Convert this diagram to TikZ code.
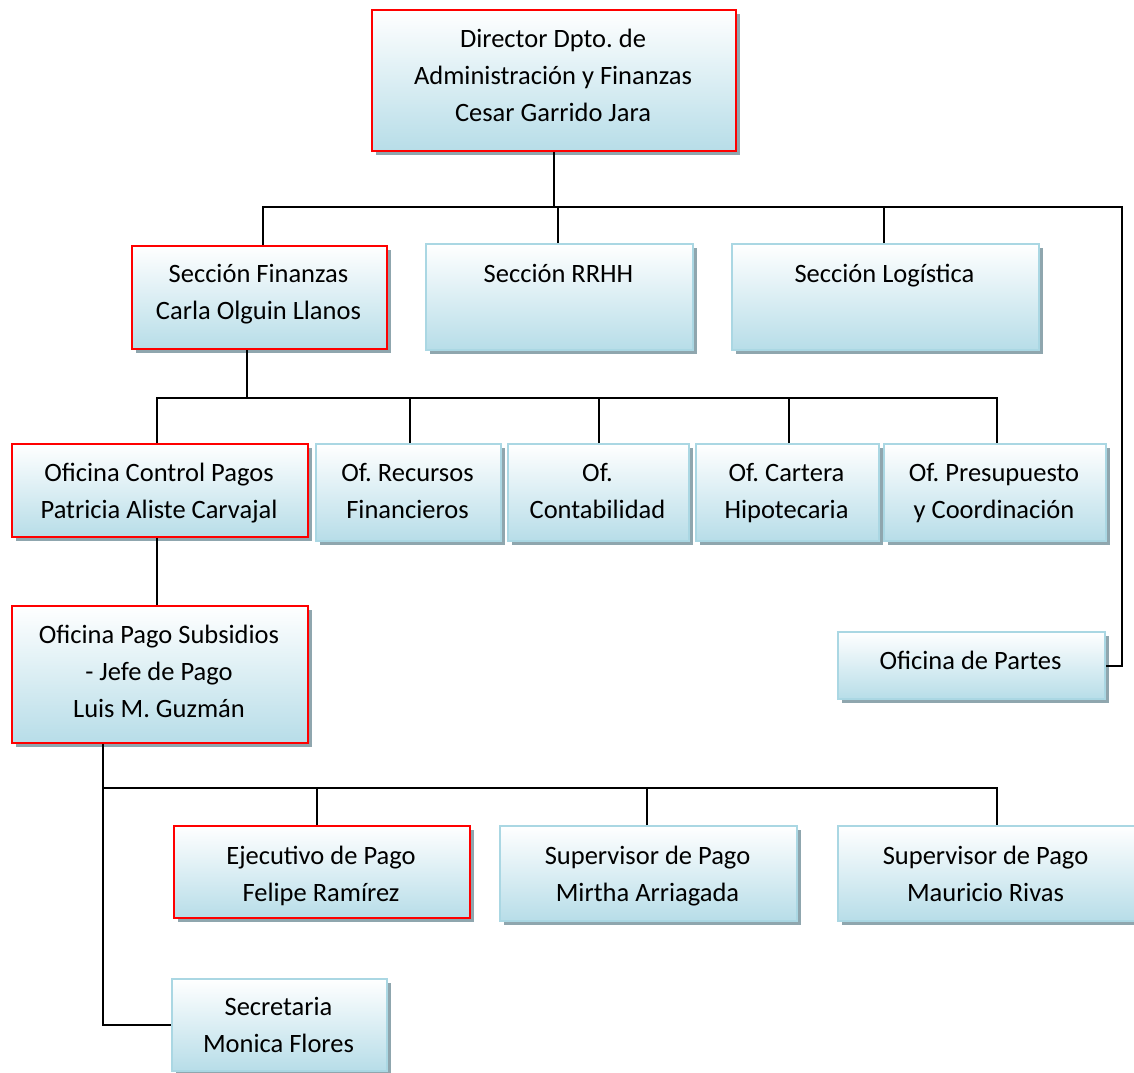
\documentclass[tikz,border=0pt]{standalone}
\usepackage{fontspec}
\setmainfont{Carlito}
\frenchspacing
\usetikzlibrary{shadows}
\definecolor{bl}{HTML}{B7DDE8}
\definecolor{bordc}{HTML}{AAD7E3}
\definecolor{sh}{HTML}{8FA6AE}
\tikzset{
 orgbox/.style={draw=bordc, line width=2pt, top color=white, bottom color=bl, inner sep=0pt, anchor=north west,
   drop shadow={shadow xshift=4pt, shadow yshift=-4pt, fill=sh, opacity=1}},
 redbox/.style={orgbox, draw=red},
 lbl/.style={font=\fontsize{26.5}{37}\selectfont, align=center, anchor=base, inner sep=0pt},
 conn/.style={line width=2pt, black}
}
\begin{document}
\begin{tikzpicture}[x=1pt,y=-1pt]
\useasboundingbox (0,0) rectangle (1134,1072);
% boxes
\node[redbox, minimum width=364, minimum height=141] (dir) at (371,9) {};
\node[redbox, minimum width=255, minimum height=103] (fin) at (131,245) {};
\node[orgbox, minimum width=267, minimum height=106] (rrhh) at (425,243) {};
\node[orgbox, minimum width=307, minimum height=106] (log) at (731,243) {};
\node[redbox, minimum width=296, minimum height=93] (ctrl) at (11,443) {};
\node[orgbox, minimum width=185, minimum height=97] (rec) at (315,443) {};
\node[orgbox, minimum width=181, minimum height=97] (cont) at (507,443) {};
\node[orgbox, minimum width=183, minimum height=97] (cart) at (695,443) {};
\node[orgbox, minimum width=222, minimum height=97] (pres) at (883,443) {};
\node[redbox, minimum width=296, minimum height=137] (subs) at (11,605) {};
\node[orgbox, minimum width=267, minimum height=67] (partes) at (837,631) {};
\node[redbox, minimum width=296, minimum height=92] (ejec) at (173,825) {};
\node[orgbox, minimum width=297, minimum height=95] (sup1) at (499,825) {};
\node[orgbox, minimum width=297, minimum height=95] (sup2) at (837,825) {};
\node[orgbox, minimum width=215, minimum height=92] (sec) at (171,978) {};
% texts (anchor = baseline of last line)
\node[lbl] (tdir) at (553,121) {Director Dpto. de\\Administración y Finanzas\\Cesar Garrido Jara};
\node[lbl] (tfin) at (258.5,319) {Sección Finanzas\\Carla Olguin Llanos};
\node[lbl] (trrhh) at (558.5,282) {Sección RRHH};
\node[lbl] (tlog) at (884.5,282) {Sección Logística};
\node[lbl] (tctrl) at (159,518) {Oficina Control Pagos\\Patricia Aliste Carvajal};
\node[lbl] (trec) at (407.5,518) {Of. Recursos\\Financieros};
\node[lbl] (tcont) at (597.5,518) {Of.\\Contabilidad};
\node[lbl] (tcart) at (786.5,518) {Of. Cartera\\Hipotecaria};
\node[lbl] (tpres) at (994,518) {Of. Presupuesto\\y Coordinación};
\node[lbl] (tsubs) at (159,717) {Oficina Pago Subsidios\\- Jefe de Pago\\Luis M. Guzmán};
\node[lbl] (tpartes) at (970.5,669) {Oficina de Partes};
\node[lbl] (tejec) at (321,901) {Ejecutivo de Pago\\Felipe Ramírez};
\node[lbl] (tsup1) at (647.5,901) {Supervisor de Pago\\Mirtha Arriagada};
\node[lbl] (tsup2) at (985.5,901) {Supervisor de Pago\\Mauricio Rivas};
\node[lbl] (tsec) at (278.5,1052) {Secretaria\\Monica Flores};
% connectors level 1
\coordinate (j1) at (1122,207);
\draw[conn] (dir.south) -- (dir.south |- j1);
\draw[conn] ([xshift=3.5pt]fin.north) |- (j1) |- (partes.east);
\draw[conn] ([xshift=-1.5pt]rrhh.north) -- ([xshift=-1.5pt]rrhh.north |- j1);
\draw[conn] ([xshift=-1.5pt]log.north) -- ([xshift=-1.5pt]log.north |- j1);
% level 2
\coordinate (j2) at (247,398);
\draw[conn] (j2 |- fin.south) -- (j2);
\draw[conn] ([xshift=-3pt]ctrl.north) |- (j2) -| ([xshift=2pt]pres.north);
\draw[conn] ([xshift=1.5pt]rec.north) -- ([xshift=1.5pt]rec.north |- j2);
\draw[conn] (cont.north) -- (cont.north |- j2);
\draw[conn] ([xshift=1.5pt]cart.north) -- ([xshift=1.5pt]cart.north |- j2);
% level 3
\draw[conn] ([xshift=-3pt]ctrl.south) -- ([xshift=-3pt]subs.north);
% level 4
\coordinate (j4) at (102,788);
\draw[conn] ([xshift=-57pt]subs.south) |- (sec.west);
\draw[conn] (j4) -| ([xshift=10.5pt]sup2.north);
\draw[conn] ([xshift=-5pt]ejec.north) -- ([xshift=-5pt]ejec.north |- j4);
\draw[conn] ([xshift=-1.5pt]sup1.north) -- ([xshift=-1.5pt]sup1.north |- j4);
\end{tikzpicture}
\end{document}
